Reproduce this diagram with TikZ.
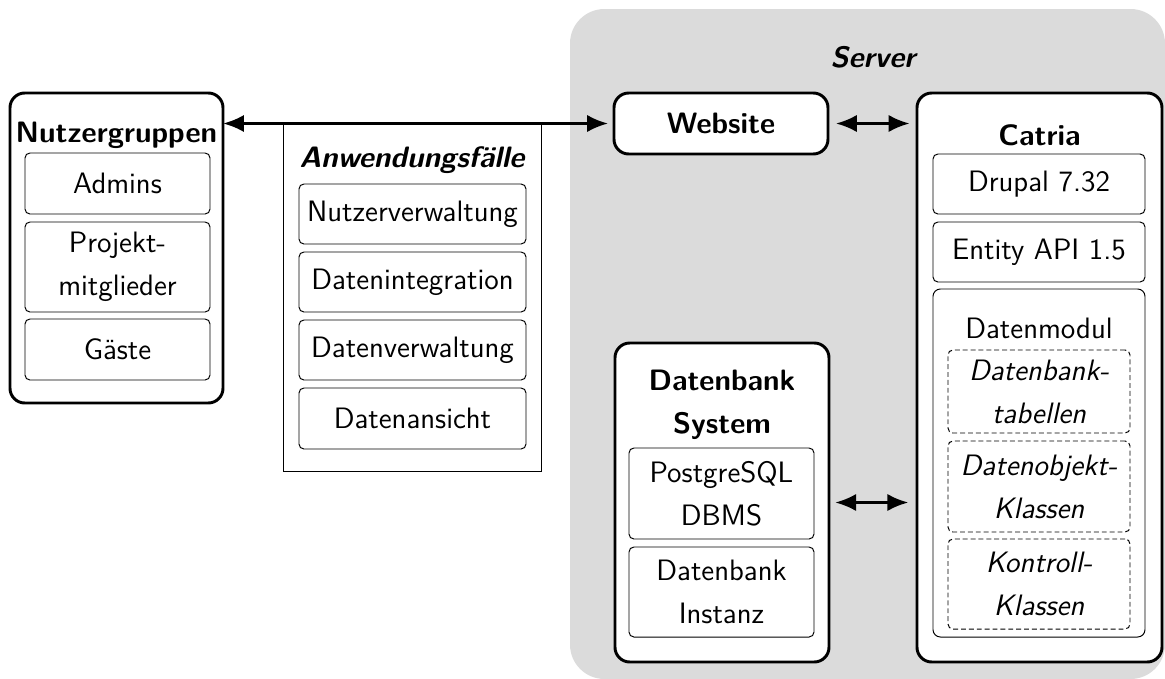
\documentclass[tikz,border=0pt]{standalone}
\usetikzlibrary{fit,arrows.meta}
\begin{document}
\begin{tikzpicture}[x=0.4065pt,y=-0.4065pt,
  font=\sffamily\fontsize{12}{17.5}\selectfont,
  every node/.style={inner sep=0pt, outer sep=0pt, align=center},
  mainbox/.style={draw, line width=1.2pt, rounded corners=6pt, fill=white},
  itembox/.style={draw, line width=0.4pt, rounded corners=2pt, fill=white},
  dashbox/.style={draw, line width=0.4pt, rounded corners=2pt, dash pattern=on 2pt off 1.2pt},
  plainbox/.style={draw, line width=0.4pt},
  title/.style={font=\sffamily\bfseries\fontsize{12}{17.5}\selectfont},
  bititle/.style={font=\sffamily\bfseries\itshape\fontsize{12}{17.5}\selectfont},
  itext/.style={font=\sffamily\itshape\fontsize{12}{17.5}\selectfont},
  conn/.style={line width=1.2pt, {Latex[length=8.5pt,width=7pt]}-{Latex[length=8.5pt,width=7pt]}}
]
\useasboundingbox (0,0) rectangle (1165,679);

% server area
\fill[black!14, rounded corners=14pt] (570,9) rectangle (1165,679);
\node[bititle] (srvlabel) at (873,57) {Server};

% user groups
\node[mainbox, fit={(10,93) (223,403)}] (ng) {};
\node[title] (ngt) at (116.5,135) {Nutzergruppen};
\node[itembox, fit={(25,153) (210,214)}, label=center:Admins] (ng1) {};
\node[itembox, fit={(25,222) (210,312)}, label={center:{Projekt-\\mitglieder}}] (ng2) {};
\node[itembox, fit={(25,319) (210,380)}, label=center:Gäste] (ng3) {};

% use cases
\node[plainbox, fit={(283,123) (541,471)}] (uc) {};
\node[bititle] (uct) at (412,160) {Anwendungsfälle};
\node[itembox, fit={(299,184) (526,244)}, label=center:Nutzerverwaltung] (uc1) {};
\node[itembox, fit={(299,252) (526,312)}, label=center:Datenintegration] (uc2) {};
\node[itembox, fit={(299,320) (526,380)}, label=center:Datenverwaltung] (uc3) {};
\node[itembox, fit={(299,388) (526,449)}, label=center:Datenansicht] (uc4) {};

% website
\node[mainbox, fit={(614,93) (828,154)}, label={[title]center:Website}] (web) {};

% catria
\node[mainbox, fit={(917,93) (1162,662)}] (cat) {};
\node[title] (catt) at (1039.5,135) {Catria};
\node[itembox, fit={(933,154) (1145,214)}, label={center:Drupal 7.32}] (c1) {};
\node[itembox, fit={(933,222) (1145,282)}, label={center:Entity API 1.5}] (c2) {};
\node[itembox, rounded corners=3pt, fit={(933,289) (1145,637)}] (c3) {};
\node (c3t) at (1039,328) {Datenmodul};
\node[dashbox, fit={(948,350) (1130,433)}, label={[itext]center:{Datenbank-\\tabellen}}] (d1) {};
\node[dashbox, fit={(948,441) (1130,532)}, label={[itext]center:{Datenobjekt-\\Klassen}}] (d2) {};
\node[dashbox, fit={(948,539) (1130,629)}, label={[itext]center:{Kontroll-\\Klassen}}] (d3) {};

% database system
\node[mainbox, fit={(615,343) (829,662)}] (db) {};
\node[title] (dbt) at (722,405) {Datenbank\\System};
\node[itembox, fit={(629,448) (814,539)}, label={center:{PostgreSQL\\DBMS}}] (db1) {};
\node[itembox, fit={(629,547) (814,637)}, label={center:{Datenbank\\Instanz}}] (db2) {};

% connectors
\draw[conn, shorten >=2.4pt] (ng.east |- web.west) -- (web.west);
\draw[conn, shorten <=3.2pt, shorten >=3pt] (web.east) -- (cat.west |- web.east);
\draw[conn, shorten <=2.5pt, shorten >=3.5pt] (db.east) -- (cat.west |- db.east);
\end{tikzpicture}
\end{document}
